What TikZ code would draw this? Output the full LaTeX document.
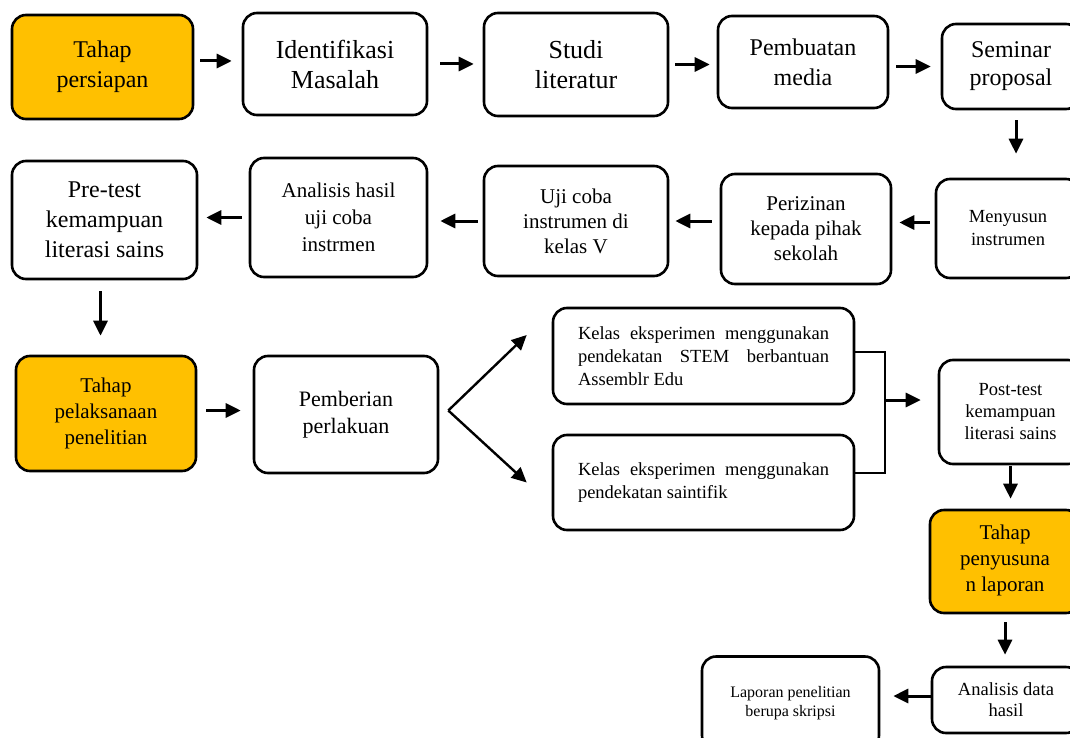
\documentclass[tikz,border=0pt]{standalone}
\usepackage{fontspec}
\setmainfont{Liberation Serif}
\usetikzlibrary{arrows.meta,positioning}
\definecolor{amber}{HTML}{FFC000}
\tikzset{
  task/.style={
    draw=black,
    line width=1.3pt,
    rounded corners=7pt,
    align=center,
    fill=white,
    inner sep=2pt
  },
  phase/.style={
    task,
    fill=amber
  },
  flow/.style={
    -{Triangle[length=7.5pt,width=7pt]},
    draw=black,
    line width=1.5pt,
    shorten <=3pt,
    shorten >=5pt
  },
  link/.style={
    draw=black,
    line width=1.3pt
  },
  fsxl/.style={font=\fontsize{13}{15}\selectfont},
  fsl/.style={font=\fontsize{12}{15}\selectfont},
  fsm/.style={font=\fontsize{10.5}{13}\selectfont},
  fss/.style={font=\fontsize{9.25}{11.5}\selectfont},
  fsxs/.style={font=\fontsize{8}{9.5}\selectfont}
}

\begin{document}
\begin{tikzpicture}[x=0.5pt,y=-0.5pt]
  \useasboundingbox (0,0) rectangle (1070,738);
  \clip (0,0) rectangle (1070,738);

  % first row
  \node[phase, fsl, minimum width=90.5pt, minimum height=52pt] (prep) at (102.5,67) {Tahap\\persiapan};
  \node[task, fsxl, minimum width=92pt, minimum height=51pt] (ident) at (335,64) {Identifikasi\\Masalah};
  \node[task, fsxl, minimum width=92pt, minimum height=51.5pt] (studi) at (576,64.5) {Studi\\literatur};
  \node[task, fsl, minimum width=85pt, minimum height=46pt] (media) at (803,62) {Pembuatan\\media};
  \node[task, fsl, font=\fontsize{12}{14}\selectfont, minimum width=69pt, minimum height=42.5pt] (seminar) at (1011,66.5) {Seminar\\proposal};

  % second row
  \node[task, fss, minimum width=72pt, minimum height=49.5pt] (susun) at (1008,228.5) {Menyusun\\instrumen};
  \node[task, font=\fontsize{10.5}{12.5}\selectfont, minimum width=85pt, minimum height=55pt] (izin) at (806,229) {Perizinan\\kepada pihak\\sekolah};
  \node[task, font=\fontsize{10.5}{12.5}\selectfont, minimum width=92pt, minimum height=55pt] (ujicoba) at (576,221) {Uji coba\\instrumen di\\kelas V};
  \node[task, font=\fontsize{10.5}{13.5}\selectfont, minimum width=88.5pt, minimum height=59.5pt] (analisis) at (338.5,217.5) {Analisis hasil\\uji coba\\instrmen};
  \node[task, fsl, minimum width=92.5pt, minimum height=59pt] (pretest) at (104.5,220) {Pre-test\\kemampuan\\literasi sains};

  % third row
  \node[phase, fsm, minimum width=90pt, minimum height=57.5pt] (pelaksanaan) at (106,413.5) {Tahap\\pelaksanaan\\penelitian};
  \node[task, font=\fontsize{11}{13.5}\selectfont, minimum width=92pt, minimum height=58.5pt] (perlakuan) at (346,414.5) {Pemberian\\perlakuan};
  \node[task, fss, align=justify, text width=125.5pt, minimum width=150.5pt, minimum height=48pt] (kelasA) at (703.5,356)
    {\hyphenpenalty=10000 Kelas eksperimen menggunakan pendekatan STEM berbantuan Assemblr Edu};
  \node[task, fss, align=justify, text width=125.5pt, minimum width=150.5pt, minimum height=47.5pt] (kelasB) at (703.5,482.5)
    {\hyphenpenalty=10000 Kelas eksperimen menggunakan pendekatan saintifik};
  \node[task, fss, font=\fontsize{9.25}{11}\selectfont, minimum width=71.5pt, minimum height=52pt] (posttest) at (1010.5,412) {Post-test\\kemampuan\\literasi sains};

  % last part
  \node[phase, fsm, minimum width=75pt, minimum height=51.5pt, text depth=3pt] (penyusunan) at (1005,561.5) {Tahap\\penyusuna\\n laporan};
  \node[task, fss, font=\fontsize{9.25}{10.5}\selectfont, minimum width=74pt, minimum height=33pt] (adata) at (1006,700) {Analisis data\\hasil};
  \node[task, fsxs, minimum width=88.5pt, minimum height=46.5pt] (laporan) at (790.5,703) {Laporan penelitian\\berupa skripsi};

  \coordinate (split) at ([xshift=4.5pt,yshift=2pt]perlakuan.east);
  \coordinate (merge) at (885,400);

  % connectors
  \draw[flow] ([yshift=3pt]prep.east) -- ([yshift=3pt]prep.east -| ident.west);
  \draw[flow, shorten <=6pt, shorten >=4.5pt] (ident.east) -- (ident.east -| studi.west);
  \draw[flow, shorten >=3.5pt] (studi.east) -- (studi.east -| media.west);
  \draw[flow, shorten <=3.5pt] (media.east |- seminar.west) -- (seminar.west);
  \draw[flow, shorten <=5pt, shorten >=12pt] ([xshift=2.5pt]seminar.south) -- ([xshift=2.5pt]seminar.south |- susun.north);

  \draw[flow, shorten <=2.5pt, shorten >=3.5pt] ([yshift=3pt]susun.west) -- ([yshift=3pt]susun.west -| izin.east);
  \draw[flow, shorten <=4pt, shorten >=3pt] (izin.west |- ujicoba.east) -- (ujicoba.east);
  \draw[flow, shorten <=2.5pt, shorten >=6pt] (ujicoba.west) -- (ujicoba.west -| analisis.east);
  \draw[flow, shorten <=3.5pt, shorten >=4pt] (analisis.west) -- (analisis.west -| pretest.east);
  \draw[flow, shorten <=5.5pt, shorten >=9.5pt] ([xshift=-2pt]pretest.south) -- ([xshift=-2pt]pretest.south |- pelaksanaan.north);

  \draw[flow, shorten <=4.5pt, shorten >=6pt] ([yshift=1.5pt]pelaksanaan.east) -- ([yshift=1.5pt]pelaksanaan.east -| perlakuan.west);
  \draw[flow, line width=1.2pt, shorten <=0pt, shorten >=0pt] (split) -- ([xshift=-12.5pt,yshift=10.5pt]kelasA.west);
  \draw[flow, line width=1.2pt, shorten <=0pt, shorten >=0pt] (split) -- ([xshift=-12.5pt]kelasB.west);
  \draw[link] ([yshift=2pt]kelasA.east) -| (merge) |- ([yshift=4.75pt]kelasB.east);
  \draw[flow, shorten <=0pt, shorten >=8.5pt] (merge) -- (merge -| posttest.west);

  \draw[flow, shorten <=0.5pt] (posttest.south) -- (posttest.south |- penyusunan.north);
  \draw[flow, shorten <=4pt, shorten >=5.5pt] (penyusunan.south) -- (penyusunan.south |- adata.north);
  \draw[flow, shorten <=0pt, shorten >=6.5pt] ([yshift=2pt]adata.west) -- ([yshift=2pt]adata.west -| laporan.east);
\end{tikzpicture}
\end{document}
